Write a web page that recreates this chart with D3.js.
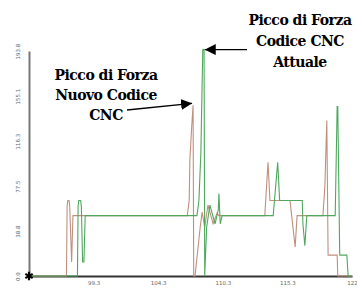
<!DOCTYPE html>
<html lang="it">
<head>
    <meta charset="UTF-8">
    <title>Picco di Forza</title>
    <script src="https://d3js.org/d3.v7.min.js"></script>
    <style>
        body { margin: 0; background: white; }
        .tick text { font-family: 'DejaVu Sans', sans-serif; font-size: 5.5px; fill: #666; }
    </style>
</head>
<body>
<script>
    const width = 357;
    const height = 292;
    const margin = {top: 51, right: 5, bottom: 16, left: 29};

    // x is measured in axis divisions (tick k sits at k)
    const xTickLabels = ['99.3', '104.3', '110.3', '115.3', '122'];
    const yTickLabels = ['0.0', '38.8', '77.5', '116.3', '155.1', '193.8'];
    const yTickValues = [0, 38.76, 77.52, 116.28, 155.04, 193.8];

    // Nuovo codice CNC (brown)
    const nuovoX = [0, 0.58, 0.59, 0.60, 0.62, 0.63, 0.66, 0.68, 2.45, 2.48, 2.49, 2.52, 2.54, 2.55, 2.57, 2.65, 2.68, 2.72, 2.77, 2.80, 2.85, 2.91, 2.94, 3.65, 3.70, 3.73, 4.04, 4.06, 4.12, 4.15, 4.55, 4.58, 4.61, 4.63, 4.77, 4.78, 5];
    const nuovoY = [0, 0, 60, 65, 65, 60, 12, 52, 52, 65, 100, 130, 147, 0, 0, 42, 55, 42, 61, 55, 45, 54, 52, 52, 98, 65, 65, 55, 25, 52, 52, 77, 134, 18, 18, 0, 0];

    // Codice CNC attuale (green)
    const attualeX = [0, 0.75, 0.76, 0.77, 0.80, 0.81, 0.83, 0.85, 0.87, 2.60, 2.63, 2.66, 2.69, 2.71, 2.72, 2.75, 2.80, 2.88, 2.93, 2.94, 2.96, 2.99, 3.78, 3.85, 3.88, 4.23, 4.24, 4.27, 4.30, 4.74, 4.77, 4.78, 4.81, 4.92, 4.94, 5];
    const attualeY = [0, 0, 60, 65, 65, 60, 12, 12, 52, 52, 65, 105, 195, 195, 0, 42, 61, 45, 57, 71, 45, 52, 52, 98, 65, 65, 45, 26, 52, 52, 146, 146, 18, 18, 0, 0];

    const notaNuovo = ['Picco di Forza', 'Nuovo Codice', 'CNC'];
    const notaAttuale = ['Picco di Forza', 'Codice CNC', 'Attuale'];

    const svg = d3.select('body').append('svg').attr('width', width).attr('height', height);

    const x = d3.scaleLinear().domain([0, 5]).range([margin.left, width - margin.right]);
    const y = d3.scaleLinear().domain([0, 193.8]).range([height - margin.bottom, margin.top]);

    const defs = svg.append('defs');
    defs.append('marker')
        .attr('id', 'head')
        .attr('viewBox', '0 0 10 10')
        .attr('refX', 10).attr('refY', 5)
        .attr('markerWidth', 11).attr('markerHeight', 11)
        .attr('markerUnits', 'userSpaceOnUse')
        .attr('orient', 'auto')
        .append('path').attr('d', 'M0,0L10,5L0,10Z').attr('fill', 'black');

    // axes
    const yAxis = svg.append('g')
        .attr('transform', `translate(${margin.left},0)`)
        .call(d3.axisLeft(y).tickValues(yTickValues).tickFormat((d, i) => yTickLabels[i]).tickSize(0).tickPadding(0));
    yAxis.select('.domain').attr('stroke', '#777').attr('stroke-width', 2);
    yAxis.selectAll('.tick text')
        .attr('transform', 'translate(-11,0) rotate(-90)')
        .attr('x', 0).attr('dy', '0.35em')
        .style('text-anchor', 'middle');

    const xAxis = svg.append('g')
        .attr('transform', `translate(0,${y(0)})`)
        .call(d3.axisBottom(x).tickValues([1, 2, 3, 4, 5]).tickFormat((d, i) => xTickLabels[i]).tickSize(0).tickPadding(5));
    xAxis.select('.domain').attr('stroke', '#333').attr('stroke-width', 2);

    const line = d3.line()
        .x(d => x(d[0]))
        .y(d => y(d[1]));

    const nuovo = nuovoX.map((v, i) => [v, nuovoY[i]]);
    const attuale = attualeX.map((v, i) => [v, attualeY[i]]);

    svg.append('path')
        .datum(nuovo)
        .attr('d', line)
        .style('fill', 'none')
        .style('stroke', '#c0907f')
        .style('stroke-width', 1.1);

    svg.append('path')
        .datum(attuale)
        .attr('d', line)
        .style('fill', 'none')
        .style('stroke', '#4fa85e')
        .style('stroke-width', 1.1);

    // origin marker
    svg.append('path')
        .attr('d', d3.symbol(d3.symbolAsterisk, 50))
        .attr('transform', `translate(${x(0)},${y(0)})`)
        .style('stroke', 'black')
        .style('stroke-width', 2.2);

    // annotations
    const peakNuovo = nuovo.reduce((a, b) => b[1] > a[1] ? b : a);
    const peakAttuale = attuale.reduce((a, b) => b[1] > a[1] ? b : a);

    function note(lines, cx, y0, step) {
        svg.append('text')
            .attr('font-family', "'DejaVu Serif', serif")
            .attr('font-weight', 'bold')
            .attr('font-size', 14)
            .attr('letter-spacing', -0.5)
            .attr('text-anchor', 'middle')
            .attr('fill', 'black')
            .selectAll('tspan').data(lines).enter()
            .append('tspan')
            .attr('x', cx)
            .attr('y', (d, i) => y0 + i * step)
            .text(d => d);
    }

    note(notaNuovo, 106, 80, 20);
    svg.append('line')
        .attr('x1', 127).attr('y1', 110)
        .attr('x2', x(peakNuovo[0]) - 1).attr('y2', y(peakNuovo[1]) - 2)
        .style('stroke', 'black').style('stroke-width', 1.3)
        .attr('marker-end', 'url(#head)');

    note(notaAttuale, 300, 25, 21);
    svg.append('line')
        .attr('x1', 247).attr('y1', y(peakAttuale[1]))
        .attr('x2', x(peakAttuale[0]) + 2).attr('y2', y(peakAttuale[1]))
        .style('stroke', 'black').style('stroke-width', 1.3)
        .attr('marker-end', 'url(#head)');
</script>
</body>
</html>
